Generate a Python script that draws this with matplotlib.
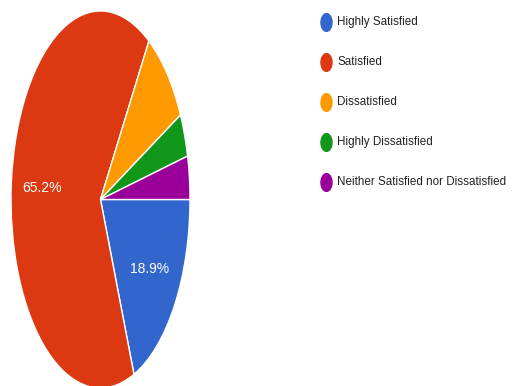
"""Satisfaction survey pie chart with a side legend."""
import matplotlib
matplotlib.use("Agg")
import matplotlib.pyplot as plt
import numpy as np
from matplotlib.path import Path

# survey results (percent of respondents)
categories = [
    "Highly Satisfied",
    "Satisfied",
    "Dissatisfied",
    "Highly Dissatisfied",
    "Neither Satisfied nor Dissatisfied",
]
shares = [18.9, 65.2, 8.5, 3.7, 3.7]
colors = ["#3366CC", "#DC3912", "#FF9900", "#109618", "#990099"]

FONT = ["Liberation Sans", "DejaVu Sans"]
W, H = 514, 386

fig = plt.figure(figsize=(W / 100, H / 100), dpi=100)
fig.patch.set_facecolor("white")

# pie is drawn stretched vertically (axes in pixel box)
ax = fig.add_axes([11 / W, (H - 388) / H, 179 / W, 377 / H])


def pct_label(p):
    # only the large slices get a label
    return f"{p:.1f}%" if p > 10 else ""


wedges, _, autotexts = ax.pie(
    shares,
    colors=colors,
    startangle=0,
    counterclock=False,
    autopct=pct_label,
    pctdistance=0.66,
    wedgeprops={"edgecolor": "white", "linewidth": 1.0},
    textprops={"color": "white", "fontsize": 10, "family": FONT},
)
ax.set_aspect("auto")
ax.set_xlim(-1, 1)
ax.set_ylim(-1, 1)
ax.axis("off")

# legend drawn in pixel coordinates
leg = fig.add_axes([0, 0, 1, 1])
leg.set_xlim(0, W)
leg.set_ylim(H, 0)
leg.axis("off")

t = np.linspace(0, 2 * np.pi, 40)
oval = Path(np.column_stack([0.65 * np.cos(t), np.sin(t)]))

for i, (name, c) in enumerate(zip(categories, colors)):
    y = 22 + 40 * i
    leg.scatter([326], [y], s=190, marker=oval, color=c, linewidths=0)
    leg.text(337, y, name, fontsize=8.4, family=FONT, color="#222222",
             va="center", ha="left")

fig.savefig("out.png", dpi=100)
